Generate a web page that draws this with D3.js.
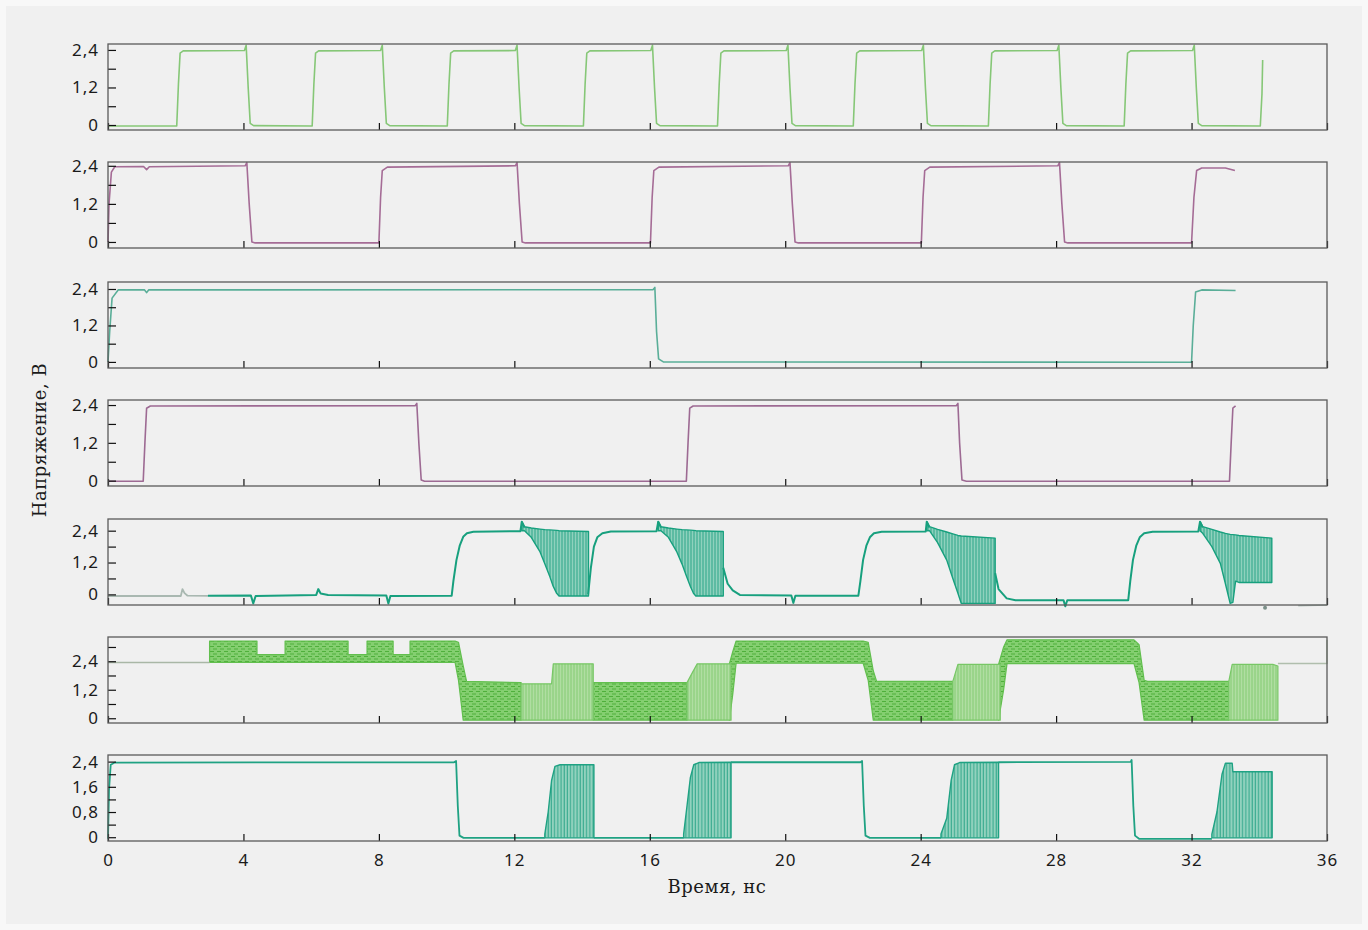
<!DOCTYPE html>
<html>
<head>
<meta charset="utf-8">
<script src="https://cdn.jsdelivr.net/npm/d3@7"></script>
<style>
  body { margin: 0; background: #f8f8f8; }
  .tick text { font-family: "Noto Sans", sans-serif; font-size: 17px; fill: #1a1a1a; letter-spacing: 1px; }
  .title { font-family: "DejaVu Serif", serif; font-size: 18px; fill: #1a1a1a; letter-spacing: 0.5px; }
</style>
</head>
<body>
<svg width="1368" height="930"></svg>
<script>
// Ось времени, нс
const xTickVals = [0, 4, 8, 12, 16, 20, 24, 28, 32, 36];

// Панель 1 — тактовый сигнал (период 4 нс)
const p1Wave = [
  [0,-0.03],[2.03,-0.03],[2.08,1.3],[2.13,2.3],[2.22,2.37],[4.03,2.38],[4.08,2.55],[4.14,1.2],[4.2,0.05],[4.3,-0.02],
  [6.03,-0.03],[6.08,1.3],[6.13,2.3],[6.22,2.37],[8.05,2.38],[8.1,2.55],[8.16,1.2],[8.22,0.05],[8.32,-0.02],
  [10.02,-0.03],[10.07,1.3],[10.12,2.3],[10.21,2.37],[12.03,2.38],[12.08,2.55],[12.14,1.2],[12.2,0.05],[12.3,-0.02],
  [14.04,-0.03],[14.09,1.3],[14.14,2.3],[14.23,2.37],[16.03,2.38],[16.08,2.55],[16.14,1.2],[16.2,0.05],[16.3,-0.02],
  [18.0,-0.03],[18.05,1.3],[18.1,2.3],[18.19,2.37],[20.03,2.38],[20.08,2.55],[20.14,1.2],[20.2,0.05],[20.3,-0.02],
  [22.01,-0.03],[22.06,1.3],[22.11,2.3],[22.2,2.37],[24.03,2.38],[24.08,2.55],[24.14,1.2],[24.2,0.05],[24.3,-0.02],
  [26.0,-0.03],[26.05,1.3],[26.1,2.3],[26.19,2.37],[28.03,2.38],[28.08,2.55],[28.14,1.2],[28.2,0.05],[28.3,-0.02],
  [30.01,-0.03],[30.06,1.3],[30.11,2.3],[30.2,2.37],[32.03,2.38],[32.08,2.55],[32.14,1.2],[32.2,0.05],[32.3,-0.02],
  [34.03,-0.03],[34.08,1.0],[34.1,2.08]
];

// Панель 2 — период 8 нс
const p2Wave = [
  [0,0.0],[0.03,1.2],[0.1,2.2],[0.2,2.37],[1.05,2.38],[1.14,2.28],[1.22,2.37],[4.05,2.4],[4.1,2.5],[4.17,1.2],[4.25,0.0],[4.35,-0.03],
  [8.0,-0.03],[8.05,1.4],[8.1,2.25],[8.25,2.36],[12.03,2.4],[12.08,2.5],[12.15,1.2],[12.23,0.0],[12.33,-0.03],
  [16.02,-0.03],[16.07,1.4],[16.12,2.25],[16.27,2.36],[20.09,2.4],[20.14,2.5],[20.21,1.2],[20.29,0.0],[20.39,-0.03],
  [24.02,-0.03],[24.07,1.4],[24.12,2.25],[24.27,2.36],[28.05,2.4],[28.1,2.5],[28.17,1.2],[28.25,0.0],[28.35,-0.03],
  [32.0,-0.03],[32.07,1.4],[32.15,2.25],[32.3,2.33],[33.0,2.33],[33.28,2.25]
];

// Панель 3 — период 32 нс
const p3Wave = [
  [0,0.0],[0.05,1.0],[0.12,2.1],[0.3,2.37],[1.08,2.37],[1.14,2.28],[1.2,2.37],[16.1,2.38],[16.15,2.45],[16.2,1.0],[16.26,0.1],[16.4,0.0],
  [32.0,-0.01],[32.05,1.2],[32.12,2.3],[32.3,2.37],[33.3,2.35]
];

// Панель 4 — период 16 нс
const p4Wave = [
  [0,-0.02],[1.04,-0.02],[1.09,1.2],[1.14,2.3],[1.25,2.37],[9.07,2.38],[9.12,2.45],[9.18,1.2],[9.25,0.02],[9.35,-0.02],
  [17.08,-0.02],[17.13,1.2],[17.18,2.3],[17.28,2.37],[25.05,2.38],[25.1,2.45],[25.15,1.2],[25.22,0.02],[25.35,-0.02],
  [33.12,-0.02],[33.17,1.2],[33.22,2.3],[33.3,2.37]
];

// Панель 5 — отрезки линии и полосы (t, низ, верх)
const p5Pre = [[0,-0.06],[2.15,-0.06],[2.2,0.2],[2.26,0.05],[2.35,-0.05],[2.95,-0.06]];
const p5Seg1 = [[2.95,-0.05],[4.22,-0.04],[4.29,-0.34],[4.36,-0.06],[6.15,-0.02],[6.21,0.2],[6.28,0.03],[6.5,-0.02],[8.22,-0.04],[8.28,-0.34],[8.34,-0.06],[10.15,-0.05],[10.2,0.5],[10.29,1.29],[10.39,1.85],[10.49,2.17],[10.6,2.3],[10.79,2.36],[12.18,2.38],[12.22,2.74],[12.3,2.52]];
const p5Seg2 = [[14.18,0.0],[14.26,1.0],[14.35,1.8],[14.45,2.15],[14.6,2.3],[14.85,2.37],[16.2,2.38],[16.25,2.74],[16.33,2.52]];
const p5Seg3 = [[18.17,1.0],[18.3,0.4],[18.45,0.15],[18.66,-0.02],[20.18,-0.04],[20.24,-0.32],[20.3,-0.05],[22.16,-0.05],[22.22,0.5],[22.3,1.3],[22.4,1.85],[22.5,2.15],[22.62,2.3],[22.85,2.36],[24.15,2.37],[24.18,2.74],[24.26,2.52]];
const p5Seg4 = [[26.2,0.8],[26.3,0.2],[26.54,-0.15],[26.8,-0.22],[28.22,-0.22],[28.27,-0.45],[28.33,-0.22],[30.13,-0.22],[30.19,0.5],[30.27,1.3],[30.37,1.85],[30.47,2.15],[30.6,2.3],[30.85,2.36],[32.2,2.37],[32.25,2.74],[32.33,2.52]];
const p5Tail = [[35.15,-0.43],[36,-0.4]];
const p5Dot = [[34.17,-0.5]];
const p5Band1 = [[12.22,2.4,2.74],[12.3,2.4,2.55],[12.5,2.15,2.5],[12.76,1.6,2.46],[12.9,1.15,2.44],[13.05,0.66,2.43],[13.15,0.3,2.42],[13.25,0.04,2.41],[13.32,-0.06,2.4],[14.19,-0.06,2.37]];
const p5Band2 = [[16.25,2.4,2.74],[16.33,2.4,2.55],[16.55,2.15,2.5],[16.8,1.6,2.46],[16.95,1.15,2.44],[17.09,0.66,2.43],[17.2,0.3,2.42],[17.29,0.04,2.41],[17.36,-0.06,2.4],[18.17,-0.06,2.37]];
const p5Band3 = [[24.18,2.4,2.74],[24.26,2.4,2.55],[24.5,1.95,2.45],[24.77,1.29,2.35],[24.95,0.6,2.28],[25.1,0.04,2.22],[25.2,-0.34,2.2],[26.2,-0.34,2.12]];
const p5Band4 = [[32.25,2.4,2.74],[32.33,2.3,2.55],[32.6,1.8,2.45],[32.85,1.17,2.35],[33.0,0.4,2.3],[33.14,-0.34,2.26],[33.22,-0.3,2.25],[33.3,0.5,2.24],[33.4,0.45,2.22],[34.37,0.45,2.12]];

// Панель 6 — плотные и светлые полосы (t, низ, верх)
const p6Pre = [[0,2.35],[3.0,2.35]];
const p6Post = [[34.55,2.3],[36,2.3],[36,3.3]];
const p6DenseA = [[3.0,2.35,3.25],[4.4,2.35,3.25],[4.4,2.35,2.68],[5.23,2.35,2.68],[5.23,2.35,3.25],[7.09,2.35,3.25],[7.09,2.35,2.68],[7.65,2.35,2.68],[7.65,2.35,3.25],[8.42,2.35,3.25],[8.42,2.35,2.68],[8.92,2.35,2.68],[8.92,2.35,3.25],[10.25,2.35,3.25],[10.35,1.6,3.2],[10.49,-0.08,2.2],[10.59,-0.08,1.55],[12.2,-0.08,1.5]];
const p6LightA = [[12.2,-0.08,1.45],[13.1,-0.08,1.45],[13.15,-0.08,2.29],[14.33,-0.08,2.29]];
const p6DenseB = [[14.33,-0.08,1.5],[17.1,-0.08,1.5]];
const p6LightB = [[17.1,-0.08,1.5],[17.25,-0.08,1.9],[17.4,-0.08,2.29],[18.4,-0.08,2.29]];
const p6DenseC = [[18.35,-0.08,2.29],[18.45,1.0,2.8],[18.55,2.32,3.25],[22.3,2.32,3.25],[22.45,1.6,3.2],[22.6,-0.08,2.0],[22.7,-0.08,1.55],[24.95,-0.08,1.55]];
const p6LightC = [[24.95,-0.08,1.55],[25.1,-0.08,2.27],[26.35,-0.08,2.27]];
const p6DenseD = [[26.3,-0.08,2.27],[26.45,1.2,3.0],[26.55,2.3,3.3],[30.3,2.3,3.3],[30.45,1.5,3.1],[30.6,-0.08,1.6],[30.7,-0.08,1.55],[33.1,-0.08,1.55]];
const p6LightD = [[33.1,-0.08,1.55],[33.2,-0.08,2.27],[34.4,-0.08,2.27],[34.55,-0.08,2.2]];

// Панель 7
const p7Seg1 = [[0,-0.05],[0.03,1.5],[0.08,2.3],[0.2,2.37],[10.22,2.38],[10.28,2.42],[10.33,1.0],[10.38,0.05],[10.5,-0.02],[12.9,-0.02]];
const p7Seg2 = [[14.35,-0.02],[17.0,-0.02]];
const p7Seg3 = [[18.4,2.38],[22.22,2.38],[22.27,2.42],[22.32,1.0],[22.37,0.05],[22.5,-0.02],[24.6,-0.02]];
const p7Seg4 = [[26.3,2.38],[30.2,2.39],[30.23,2.45],[30.28,1.0],[30.33,0.05],[30.45,-0.05],[32.6,-0.05]];
const p7Band1 = [[12.9,-0.02,0.1],[13.0,-0.02,0.8],[13.1,-0.02,1.8],[13.2,-0.02,2.25],[13.35,-0.02,2.3],[14.35,-0.02,2.3]];
const p7Band2 = [[17.0,-0.02,0.1],[17.1,-0.02,1.0],[17.2,-0.02,1.9],[17.3,-0.02,2.3],[17.45,-0.02,2.37],[18.4,-0.02,2.38]];
const p7Band3 = [[24.6,-0.02,0.1],[24.77,-0.02,0.6],[24.9,-0.02,1.8],[25.0,-0.02,2.3],[25.15,-0.02,2.37],[26.3,-0.02,2.38]];
const p7Band4 = [[32.6,-0.02,0.1],[32.75,-0.02,0.8],[32.9,-0.02,2.0],[33.0,-0.02,2.35],[33.2,-0.02,2.35],[33.22,-0.02,2.08],[34.38,-0.02,2.08]];

// Деления по оси напряжения
const ticks6 = [0, 0.6, 1.2, 1.8, 2.4];
const ticks6b = [0, 0.6, 1.2, 1.8, 2.4, 3.0];
const ticks7 = [0, 0.4, 0.8, 1.2, 1.6, 2.0, 2.4];
const labels12 = [0, 1.2, 2.4];
const labels08 = [0, 0.8, 1.6, 2.4];

const svg = d3.select("svg");
svg.append("rect").attr("width", 1368).attr("height", 930).attr("fill", "#f8f8f8");
svg.append("rect").attr("x", 6).attr("y", 6).attr("width", 1356).attr("height", 918).attr("fill", "#f0f0f0");

const defs = svg.append("defs");
function hatch(id, w, h, bg, stroke, d, sw) {
  const p = defs.append("pattern").attr("id", id).attr("patternUnits", "userSpaceOnUse")
    .attr("width", w).attr("height", h);
  p.append("rect").attr("width", w).attr("height", h).attr("fill", bg);
  p.append("path").attr("d", d).attr("stroke", stroke).attr("stroke-width", sw).attr("fill", "none");
}
hatch("tealBand", 3, 6, "#8fd1bd", "#1f9f80", "M1,0V6", 0.9);
hatch("p7Band", 3.2, 6, "#92d2be", "#26a285", "M1,0V6", 0.9);
hatch("greenDense", 7, 5, "#84cf70", "#4faf3b", "M0,1.5H4M3,4H7", 1);
hatch("greenLight", 3, 6, "#b0dea2", "#79c766", "M1,0V6", 0.8);

const x = d3.scaleLinear().domain([0, 36]).range([108, 1327]);
const panelH = 86;
const fmt = v => String(v).replace(".", ",");

const panels = [
  { top: 44,  domain: [-0.16, 2.59], ticks: ticks6,  labels: labels12,
    lines: [{ d: p1Wave, c: "#86c777", w: 1.6 }], bands: [] },
  { top: 162, domain: [-0.19, 2.52], ticks: ticks6,  labels: labels12,
    lines: [{ d: p2Wave, c: "#a56c96", w: 1.6 }], bands: [] },
  { top: 282, domain: [-0.2, 2.63],  ticks: ticks6,  labels: labels12,
    lines: [{ d: p3Wave, c: "#5aae98", w: 1.6 }], bands: [] },
  { top: 400, domain: [-0.17, 2.56], ticks: ticks6,  labels: labels12,
    lines: [{ d: p4Wave, c: "#9d6a93", w: 1.6 }], bands: [] },
  { top: 519, domain: [-0.40, 2.84], ticks: ticks6,  labels: labels12,
    lines: [{ d: p5Pre, c: "#a9b8b1", w: 1.8 }, { d: p5Seg1, c: "#17a07e", w: 2 }, { d: p5Seg2, c: "#17a07e", w: 2 },
            { d: p5Seg3, c: "#17a07e", w: 2 }, { d: p5Seg4, c: "#17a07e", w: 2 }, { d: p5Tail, c: "#b5c4bd", w: 1.5 }],
    bands: [p5Band1, p5Band2, p5Band3, p5Band4].map(b => ({ d: b, fill: "url(#tealBand)", stroke: "#17a07e", w: 1.4 })),
    dots: p5Dot },
  { top: 637, domain: [-0.2, 3.42],  ticks: ticks6b, labels: labels12,
    lines: [{ d: p6Pre, c: "#a9b7a6", w: 1.5 }, { d: p6Post, c: "#b0bead", w: 1.5 }],
    bands: [
      ...[p6DenseA, p6DenseB, p6DenseC, p6DenseD].map(b => ({ d: b, fill: "url(#greenDense)", stroke: "#62bf4e", w: 1.2 })),
      ...[p6LightA, p6LightB, p6LightC, p6LightD].map(b => ({ d: b, fill: "url(#greenLight)", stroke: "#78c766", w: 1.2 }))
    ] },
  { top: 755, domain: [-0.12, 2.61], ticks: ticks7,  labels: labels08,
    lines: [p7Seg1, p7Seg2, p7Seg3, p7Seg4].map(s => ({ d: s, c: "#1fa283", w: 1.8 })),
    bands: [p7Band1, p7Band2, p7Band3, p7Band4].map(b => ({ d: b, fill: "url(#p7Band)", stroke: "#1fa283", w: 1.4 })) }
];

panels.forEach((p, i) => {
  const g = svg.append("g");
  const y = d3.scaleLinear().domain(p.domain).range([p.top + panelH, p.top]);
  const last = i === panels.length - 1;

  const area = d3.area().x(d => x(d[0])).y0(d => y(d[1])).y1(d => y(d[2]));
  const line = d3.line().x(d => x(d[0])).y(d => y(d[1]));

  p.bands.forEach(b => {
    g.append("path").datum(b.d).attr("d", area)
      .attr("fill", b.fill).attr("stroke", b.stroke).attr("stroke-width", b.w)
      .attr("stroke-linejoin", "round");
  });
  p.lines.forEach(l => {
    g.append("path").datum(l.d).attr("d", line)
      .attr("fill", "none").attr("stroke", l.c).attr("stroke-width", l.w)
      .attr("stroke-linejoin", "round");
  });
  if (p.dots) {
    g.selectAll("circle.dot").data(p.dots).enter().append("circle")
      .attr("cx", d => x(d[0])).attr("cy", d => y(d[1])).attr("r", 2).attr("fill", "#7a8f88");
  }

  // Ось Y
  const ya = g.append("g").attr("transform", "translate(108,0)")
    .call(d3.axisLeft(y).tickValues(p.ticks).tickSize(-8).tickPadding(9)
      .tickFormat(v => p.labels.includes(v) ? fmt(v) : ""));
  ya.select(".domain").remove();
  ya.selectAll(".tick line").attr("stroke", "#111").attr("stroke-width", 1.2);

  // Ось X
  const xa = g.append("g").attr("transform", `translate(0,${p.top + panelH})`)
    .call(d3.axisBottom(x).tickValues(xTickVals).tickSize(-7).tickPadding(13)
      .tickFormat(last ? d => d : () => ""));
  xa.select(".domain").remove();
  xa.selectAll(".tick line").attr("stroke", "#111").attr("stroke-width", 1.2);

  g.append("rect").attr("x", 108).attr("y", p.top).attr("width", 1219).attr("height", panelH)
    .attr("fill", "none").attr("stroke", "#5a5a5a").attr("stroke-width", 1.3);
});

svg.append("text").attr("class", "title").attr("x", 717).attr("y", 893)
  .attr("text-anchor", "middle").text("Время, нс");
svg.append("text").attr("class", "title").attr("transform", "translate(46,440) rotate(-90)")
  .attr("text-anchor", "middle").text("Напряжение, В");
</script>
</body>
</html>
